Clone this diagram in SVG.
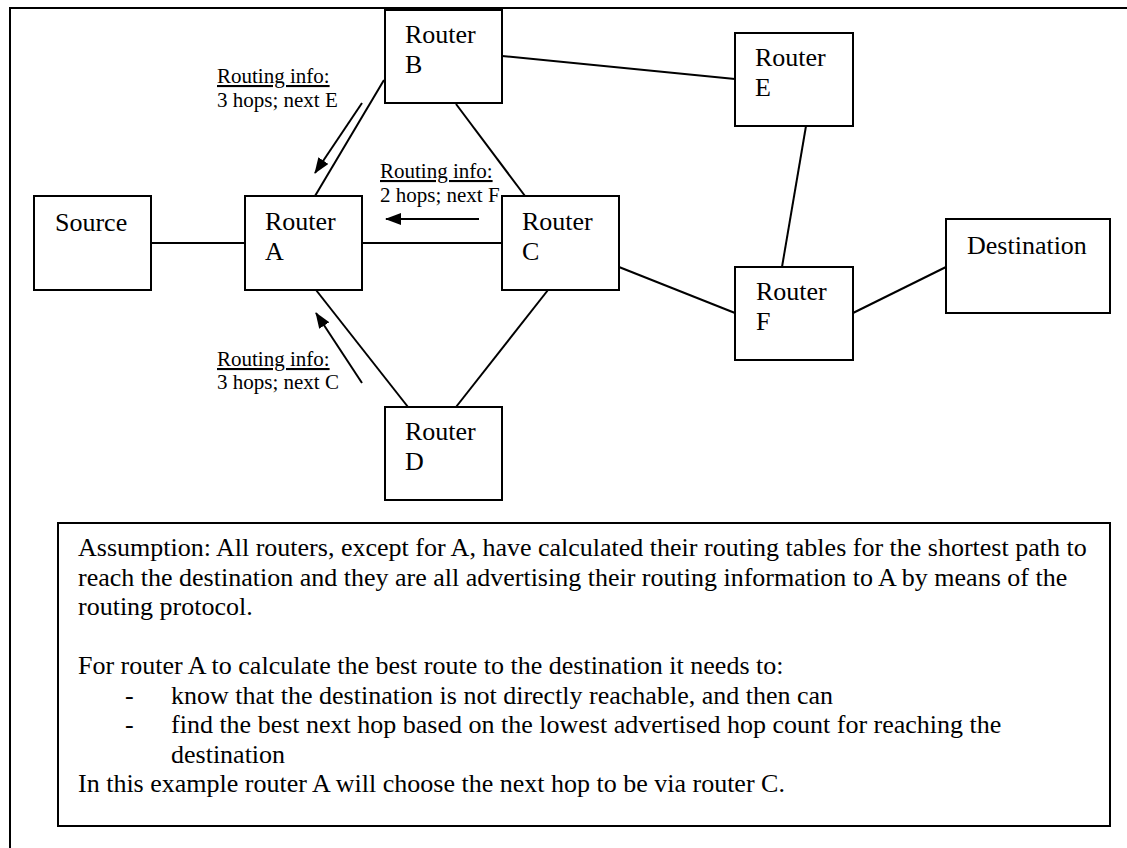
<svg xmlns="http://www.w3.org/2000/svg" width="1127" height="848" viewBox="0 0 1127 848">
  <style>
    .box { fill: #fff; stroke: #000; stroke-width: 2; }
    .link { stroke: #000; stroke-width: 2; fill: none; }
    .advert { stroke: #000; stroke-width: 2; fill: none; marker-end: url(#head); }
    .lbl { font-family: "Liberation Serif", "Times New Roman", serif; font-size: 26px; fill: #000; }
    .info { font-family: "Liberation Serif", "Times New Roman", serif; font-size: 21px; fill: #000; }
    .note { font-family: "Liberation Serif", "Times New Roman", serif; font-size: 26px; fill: #000; }
  </style>
  <defs>
    <marker id="head" viewBox="0 0 16 12" refX="15" refY="6" markerWidth="16" markerHeight="12" markerUnits="userSpaceOnUse" orient="auto">
      <path d="M0,0 L16,6 L0,12 z" fill="#000"/>
    </marker>
  </defs>
  <rect width="1127" height="848" fill="#fff"/>

  <!-- outer frame (runs off the right and bottom edges) -->
  <path d="M10,848 V8 H1127" class="link"/>

  <!-- connectors -->
  <g id="connectors">
    <line class="link" x1="151" y1="243" x2="245" y2="243"/>
    <line class="link" x1="362" y1="243" x2="502" y2="243"/>
    <line class="link" x1="384" y1="80" x2="315" y2="196"/>
    <line class="link" x1="456" y1="104" x2="525" y2="196"/>
    <line class="link" x1="502" y1="56" x2="735" y2="79"/>
    <line class="link" x1="806" y1="126" x2="782" y2="267"/>
    <line class="link" x1="619" y1="267" x2="735" y2="313"/>
    <line class="link" x1="853" y1="313" x2="946" y2="267"/>
    <line class="link" x1="316" y1="290" x2="408" y2="407"/>
    <line class="link" x1="548" y1="290" x2="456" y2="407"/>
  </g>

  <!-- routing advertisements towards router A -->
  <g id="adverts">
    <line class="advert" x1="362" y1="103" x2="315" y2="173"/>
    <line class="advert" x1="479" y1="219" x2="386" y2="219"/>
    <line class="advert" x1="362" y1="383" x2="316" y2="313"/>
  </g>

  <g id="info-b">
    <text class="info" x="217" y="83" text-decoration="underline">Routing info:</text>
    <text class="info" x="217" y="107">3 hops; next E</text>
  </g>
  <g id="info-c">
    <text class="info" x="380" y="178" text-decoration="underline">Routing info:</text>
    <text class="info" x="380" y="202">2 hops; next F</text>
  </g>
  <g id="info-d">
    <text class="info" x="217" y="366" text-decoration="underline">Routing info:</text>
    <text class="info" x="217" y="389">3 hops; next C</text>
  </g>

  <!-- nodes -->
  <g id="source">
    <rect class="box" x="34" y="196" width="117" height="94"/>
    <text class="lbl" x="55" y="231">Source</text>
  </g>
  <g id="router-a">
    <rect class="box" x="245" y="196" width="117" height="94"/>
    <text class="lbl" x="265" y="230">Router</text>
    <text class="lbl" x="265" y="260">A</text>
  </g>
  <g id="router-b">
    <rect class="box" x="385" y="10" width="117" height="93"/>
    <text class="lbl" x="405" y="43">Router</text>
    <text class="lbl" x="405" y="73">B</text>
  </g>
  <g id="router-c">
    <rect class="box" x="502" y="196" width="117" height="94"/>
    <text class="lbl" x="522" y="230">Router</text>
    <text class="lbl" x="522" y="260">C</text>
  </g>
  <g id="router-d">
    <rect class="box" x="385" y="407" width="117" height="93"/>
    <text class="lbl" x="405" y="440">Router</text>
    <text class="lbl" x="405" y="470">D</text>
  </g>
  <g id="router-e">
    <rect class="box" x="735" y="33" width="118" height="93"/>
    <text class="lbl" x="755" y="66">Router</text>
    <text class="lbl" x="755" y="96">E</text>
  </g>
  <g id="router-f">
    <rect class="box" x="735" y="267" width="118" height="93"/>
    <text class="lbl" x="756" y="300">Router</text>
    <text class="lbl" x="756" y="330">F</text>
  </g>
  <g id="destination">
    <rect class="box" x="946" y="219" width="164" height="94"/>
    <text class="lbl" x="967" y="254">Destination</text>
  </g>

  <!-- explanatory note -->
  <g id="note">
    <rect class="box" x="58" y="523" width="1052" height="303"/>
    <text class="note" x="78" y="556">Assumption: All routers, except for A, have calculated their routing tables for the shortest path to</text>
    <text class="note" x="78" y="585.5">reach the destination and they are all advertising their routing information to A by means of the</text>
    <text class="note" x="78" y="615">routing protocol.</text>
    <text class="note" x="78" y="674">For router A to calculate the best route to the destination it needs to:</text>
    <text class="note" x="125" y="703.5">-</text>
    <text class="note" x="171" y="703.5">know that the destination is not directly reachable, and then can</text>
    <text class="note" x="125" y="733">-</text>
    <text class="note" x="171" y="733">find the best next hop based on the lowest advertised hop count for reaching the</text>
    <text class="note" x="171" y="762.5">destination</text>
    <text class="note" x="78" y="792">In this example router A will choose the next hop to be via router C.</text>
  </g>
</svg>
